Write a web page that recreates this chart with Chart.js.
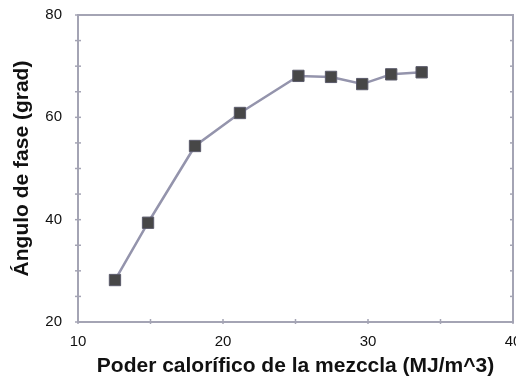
<!DOCTYPE html>
<html><head><meta charset="utf-8">
<script src="https://cdn.jsdelivr.net/npm/chart.js@4"></script>
<style>html,body{margin:0;padding:0;background:#fff;overflow:hidden}#w{width:516px;height:379px}</style>
</head><body><div id="w"><canvas id="c"></canvas></div>
<script>
const xValues = [12.55, 14.83, 18.07, 21.17, 25.2, 27.45, 29.6, 31.6, 33.7];
const yValues = [28.2, 39.4, 54.4, 60.85, 68.1, 67.9, 66.5, 68.4, 68.8];
const xTicks = [10, 20, 30, 40];
const yTicks = [20, 40, 60, 80];
const xTitle = 'Poder calorífico de la mezccla (MJ/m^3)';
const yTitle = 'Ángulo de fase (grad)';

const frame = {
  id: 'frame',
  afterDraw(chart) {
    const {ctx, chartArea: a, scales: {x, y}} = chart;
    ctx.save();
    ctx.strokeStyle = '#a4a4b4';
    ctx.lineWidth = 2;
    ctx.strokeRect(a.left, a.top, a.right - a.left, a.bottom - a.top);
    ctx.lineWidth = 1.5;
    for (let v = 10; v <= 40; v += 5) {
      const px = x.getPixelForValue(v);
      ctx.beginPath(); ctx.moveTo(px, a.bottom + 2); ctx.lineTo(px, a.bottom - 3); ctx.stroke();
    }
    for (let v = 20; v <= 80; v += 5) {
      const py = y.getPixelForValue(v);
      ctx.beginPath(); ctx.moveTo(a.left - 3, py); ctx.lineTo(a.left + 3, py); ctx.stroke();
      ctx.beginPath(); ctx.moveTo(a.right - 3, py); ctx.lineTo(a.right + 1, py); ctx.stroke();
    }
    ctx.restore();
  }
};
const noPad = s => { s.paddingLeft = 0; s.paddingRight = 0; s.paddingTop = 0; s.paddingBottom = 0;
  s.getPadding = () => ({left: 0, right: 0, top: 0, bottom: 0}); };

new Chart(document.getElementById('c'), {
  type: 'scatter',
  data: { datasets: [{
    data: xValues.map((v, i) => ({x: v, y: yValues[i]})),
    showLine: true,
    borderColor: '#9494ac',
    borderWidth: 2.5,
    pointStyle: 'rect',
    pointRadius: 8,
    pointBackgroundColor: '#474747',
    pointBorderColor: '#5a5a6a',
    pointBorderWidth: 1,
    tension: 0
  }]},
  options: {
    responsive: true, maintainAspectRatio: false, animation: false,
    layout: { autoPadding: false, padding: { top: 15, right: 3, left: 0, bottom: 0 } },
    plugins: { legend: { display: false }, tooltip: { enabled: false } },
    scales: {
      x: {
        type: 'linear', min: 10, max: 40,
        afterBuildTicks: s => { s.ticks = xTicks.map(v => ({value: v})); },
        afterFit: s => { s.height = 57; noPad(s); },
        grid: { display: false, drawTicks: false },
        border: { display: false },
        ticks: { padding: 11, color: '#111', font: { family: 'Liberation Sans, Arial', size: 15 } },
        title: { display: true, text: xTitle, color: '#111', padding: { top: 2, bottom: 0 },
          font: { family: 'Liberation Sans, Arial', size: 21, weight: 'bold' } }
      },
      y: {
        type: 'linear', min: 20, max: 80,
        afterBuildTicks: s => { s.ticks = yTicks.map(v => ({value: v})); },
        afterFit: s => { s.width = 78; noPad(s); },
        grid: { display: false, drawTicks: false },
        border: { display: false },
        ticks: { padding: 16, color: '#111', font: { family: 'Liberation Sans, Arial', size: 15 } },
        title: { display: true, text: yTitle, color: '#111', padding: { top: 10, bottom: 0 },
          font: { family: 'Liberation Sans, Arial', size: 21, weight: 'bold' } }
      }
    }
  },
  plugins: [frame]
});
</script></body></html>
